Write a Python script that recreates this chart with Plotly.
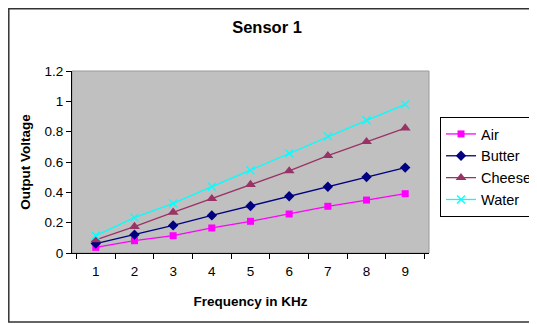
import plotly.graph_objects as go

freq = ["1", "2", "3", "4", "5", "6", "7", "8", "9"]
air = [0.037, 0.081, 0.114, 0.165, 0.209, 0.257, 0.308, 0.349, 0.391]
butter = [0.062, 0.121, 0.182, 0.248, 0.310, 0.374, 0.437, 0.501, 0.563]
cheese = [0.086, 0.174, 0.268, 0.358, 0.451, 0.541, 0.642, 0.734, 0.824]
water = [0.114, 0.233, 0.327, 0.437, 0.545, 0.657, 0.769, 0.875, 0.980]
y_ticks = [0, 0.2, 0.4, 0.6, 0.8, 1, 1.2]

# page has an 8px body margin, so the figure is shifted by 8px
OFF = 8
W, H = 537 - OFF, 324 - OFF
L, T = 72 - OFF, 71 - OFF
pw, ph = 357, 182
R = W - L - pw
B = H - T - ph

fig = go.Figure()

series = [
    ("Air", air, "#FF00FF", "square", 7, 0),
    ("Butter", butter, "#000080", "diamond", 8, 0),
    ("Cheese", cheese, "#993366", "triangle-up", 9.5, 0),
    ("Water", water, "#00FFFF", "x-thin", 8, 1.3),
]
for name, vals, col, sym, size, lw in series:
    fig.add_trace(go.Scatter(
        x=freq,
        y=vals,
        name=name,
        mode='lines+markers',
        line=dict(color=col, width=1.3),
        marker=dict(symbol=sym, size=size, color=col,
                    line=dict(color=col, width=lw)),
    ))

fig.update_layout(
    width=W,
    height=H,
    margin=dict(l=L, r=R, t=T, b=B, autoexpand=False),
    paper_bgcolor='white',
    plot_bgcolor='#C0C0C0',
    font=dict(family='Arial, Liberation Sans, sans-serif', size=13.5, color='black'),
    title=dict(text='<b>Sensor 1</b>', x=(267 - OFF) / W, xanchor='center',
               y=1 - (27 - OFF) / H, yanchor='middle', font=dict(size=16.5)),
    showlegend=True,
    legend=dict(
        x=(440 - OFF - L) / pw, xanchor='left',
        y=(T + ph - (117 - OFF)) / ph, yanchor='top',
        bordercolor='black', borderwidth=1,
        bgcolor='white',
        font=dict(size=14.5),
        itemwidth=30,
        tracegroupgap=0,
    ),
    xaxis=dict(
        type='category',
        tickson='boundaries',
        ticks='outside',
        ticklen=5,
        tickcolor='black',
        showline=True,
        linecolor='black',
        linewidth=1,
        showgrid=False,
        zeroline=False,
        automargin=False,
        ticklabelstandoff=6,
        title=dict(text='<b>Frequency in KHz</b>', standoff=18, font=dict(size=13.5)),
    ),
    yaxis=dict(
        range=[0, 1.2],
        tickvals=y_ticks,
        ticks='outside',
        ticklen=5,
        tickcolor='black',
        showline=True,
        linecolor='black',
        linewidth=1,
        showgrid=False,
        zeroline=False,
        automargin=False,
        title=dict(text='<b>Output Voltage</b>', standoff=10, font=dict(size=13.5)),
    ),
)

# plot area frame (grey) and outer chart border
fig.add_shape(type='rect', xref='paper', yref='paper', x0=0, x1=1, y0=0, y1=1,
              line=dict(color='#9a9a9a', width=1), layer='below')
fig.add_shape(type='rect', xref='paper', yref='paper',
              x0=(0.8 - L) / pw, x1=(W + 10 - L) / pw,
              y0=(T + ph - (322 - OFF)) / ph, y1=(T + ph - 0.8) / ph,
              line=dict(color='#333333', width=1.5))

fig.write_html("out.html")
